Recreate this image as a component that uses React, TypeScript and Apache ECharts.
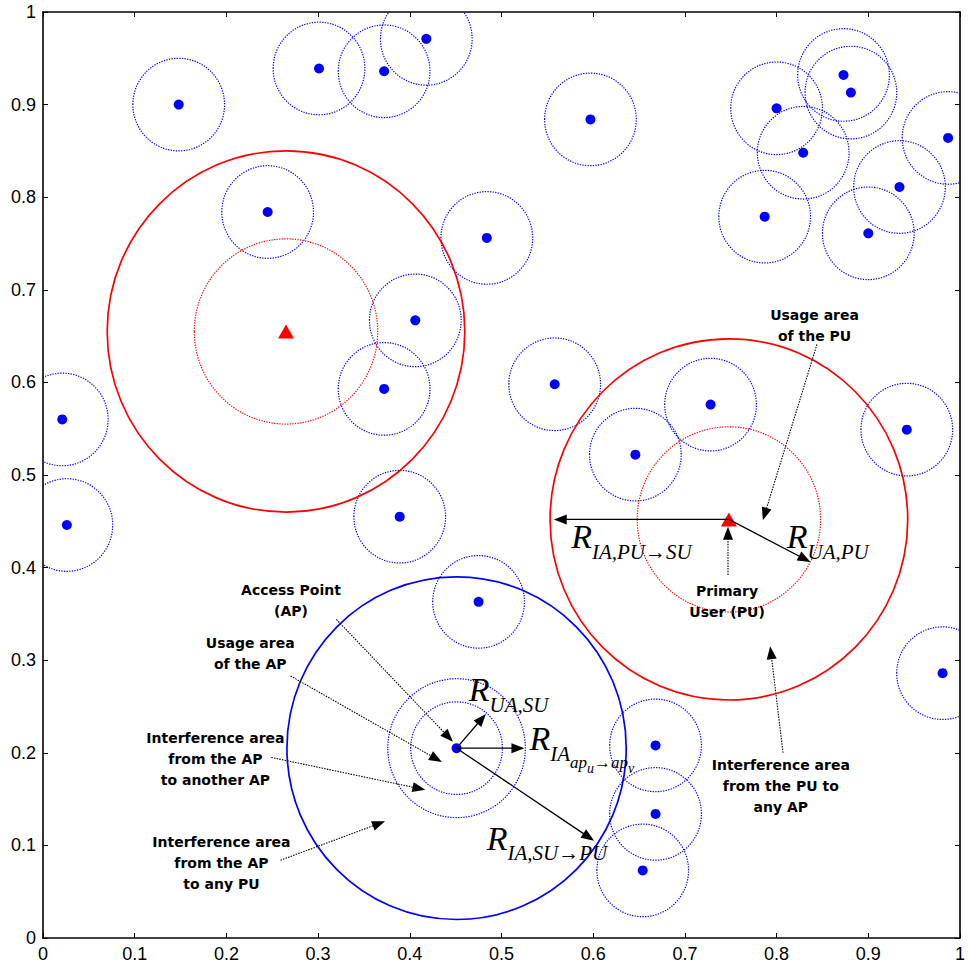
import React, { useEffect, useRef } from "react";
import * as echarts from "echarts";

// Secondary users / access points (blue dots)
const suPoints: [number, number][] = [
  [0.148, 0.9], [0.301, 0.939], [0.372, 0.936], [0.418, 0.971], [0.597, 0.884],
  [0.8, 0.896], [0.873, 0.932], [0.881, 0.913], [0.829, 0.848], [0.987, 0.864],
  [0.934, 0.811], [0.787, 0.779], [0.9, 0.761], [0.245, 0.784], [0.484, 0.756],
  [0.406, 0.667], [0.372, 0.593], [0.558, 0.598], [0.728, 0.576], [0.646, 0.522],
  [0.942, 0.549], [0.021, 0.56], [0.026, 0.446], [0.389, 0.455], [0.475, 0.363],
  [0.451, 0.205], [0.668, 0.208], [0.668, 0.134], [0.654, 0.073], [0.981, 0.286],
];
const suUsageRadius = 0.05;

// Highlighted access point
const apPoint: [number, number] = [0.451, 0.205];
const apInterferenceApRadius = 0.075;
const apInterferencePuRadius = 0.185;

// Primary users (red triangles)
const puPoints: [number, number][] = [[0.265, 0.655], [0.748, 0.452]];
const puUsageRadius = 0.1;
const puInterferenceRadius = 0.195;

// Axis ticks
const tickValues = [0, 0.1, 0.2, 0.3, 0.4, 0.5, 0.6, 0.7, 0.8, 0.9, 1];
const tickLabels = ["0", "0.1", "0.2", "0.3", "0.4", "0.5", "0.6", "0.7", "0.8", "0.9", "1"];

// Annotation texts and their anchors (data coordinates)
const noteTexts = [
  "Access Point\n(AP)",
  "Usage area\nof the AP",
  "Interference area\nfrom the AP\nto another AP",
  "Interference area\nfrom the AP\nto any PU",
  "Usage area\nof the PU",
  "Primary\nUser (PU)",
  "Interference area\nfrom the PU to\nany AP",
];
const noteAnchors: [number, number][] = [
  [0.2704, 0.3643], [0.226, 0.3076], [0.188, 0.1936], [0.1946, 0.0815],
  [0.8414, 0.6618], [0.746, 0.3637], [0.8046, 0.1645],
];

// Pointer arrows [x1, y1, x2, y2, dotted]
const noteArrows: number[][] = [
  [0.32, 0.344, 0.447, 0.212, 1],
  [0.27, 0.283, 0.435, 0.19, 1],
  [0.249, 0.195, 0.417, 0.16, 1],
  [0.259, 0.084, 0.373, 0.126, 1],
  [0.844, 0.641, 0.785, 0.451, 1],
  [0.747, 0.392, 0.747, 0.444, 1],
  [0.807, 0.2, 0.793, 0.315, 1],
];
// Radius arrows [x1, y1, x2, y2, dotted]
const radiusArrows: number[][] = [
  [0.451, 0.205, 0.483, 0.242, 0],
  [0.451, 0.205, 0.525, 0.205, 0],
  [0.451, 0.205, 0.601, 0.105, 0],
  [0.748, 0.452, 0.557, 0.452, 0],
  [0.748, 0.452, 0.837, 0.406, 0],
];

// Math labels: parts [text, level]
const mathParts: [string, number][][] = [
  [["R", 0], ["UA,SU", 1]],
  [["R", 0], ["IA", 1], ["ap", 2], ["u", 3], ["\u2192", 2], ["ap", 2], ["v", 3]],
  [["R", 0], ["IA,SU\u2192PU", 1]],
  [["R", 0], ["IA,PU\u2192SU", 1]],
  [["R", 0], ["UA,PU", 1]],
];
const mathAnchors: [number, number][] = [
  [0.4644, 0.2555], [0.5305, 0.2026], [0.4839, 0.0955], [0.576, 0.4215], [0.8111, 0.4215],
];

// styles
const levelSize = [34, 21, 17, 14];
const levelDrop = [0, 11, 18, 23];
const circleStyles = [
  { stroke: "#0000ff", lineWidth: 1.2, lineDash: [1.3, 1.3] },
  { stroke: "#ff0000", lineWidth: 1.2, lineDash: [1.3, 1.3] },
  { stroke: "#ff0000", lineWidth: 1.7, lineDash: null },
  { stroke: "#0000ff", lineWidth: 1.7, lineDash: null },
];

let measureCtx: CanvasRenderingContext2D | null = null;
function textWidth(t: string, font: string) {
  if (!measureCtx) measureCtx = document.createElement("canvas").getContext("2d");
  measureCtx!.font = font;
  return measureCtx!.measureText(t).width;
}

export default function App() {
  const ref = useRef<HTMLDivElement>(null);
  useEffect(() => {
    document.body.style.margin = "0";
    const chart = echarts.init(ref.current!, null, { renderer: "svg" });

    const circleData: number[][] = [];
    suPoints.forEach((p) => circleData.push([p[0], p[1], suUsageRadius, 0]));
    circleData.push([apPoint[0], apPoint[1], apInterferenceApRadius, 0]);
    circleData.push([apPoint[0], apPoint[1], apInterferencePuRadius, 3]);
    puPoints.forEach((p) => {
      circleData.push([p[0], p[1], puUsageRadius, 1]);
      circleData.push([p[0], p[1], puInterferenceRadius, 2]);
    });

    const arrowData = [...noteArrows, ...radiusArrows];
    const fmt = (v: number) => {
      const i = tickValues.findIndex((t) => Math.abs(t - v) < 1e-6);
      return i >= 0 ? tickLabels[i] : "";
    };
    const axisCommon = {
      type: "value" as const,
      min: 0,
      max: 1,
      interval: 0.1,
      splitLine: { show: false },
      axisLine: { show: true, onZero: false, lineStyle: { color: "#000", width: 1.6 } },
      axisTick: { show: true, inside: true, length: 5, lineStyle: { color: "#000", width: 1 } },
    };
    const labelStyle = {
      color: "#000",
      fontSize: 18,
      fontFamily: "'Liberation Sans', Arial, sans-serif",
      margin: 7,
      formatter: fmt,
      showMinLabel: true,
      showMaxLabel: true,
    };

    chart.setOption({
      animation: false,
      backgroundColor: "#fff",
      grid: { left: 43, right: 2, top: 12, bottom: 28, containLabel: false },
      xAxis: [
        { ...axisCommon, position: "bottom", axisLabel: labelStyle },
        { ...axisCommon, position: "top", axisLabel: { show: false } },
      ],
      yAxis: [
        { ...axisCommon, position: "left", axisLabel: labelStyle },
        { ...axisCommon, position: "right", axisLabel: { show: false } },
      ],
      series: [
        {
          type: "custom",
          name: "circles",
          clip: true,
          silent: true,
          encode: { x: 0, y: 1 },
          data: circleData,
          renderItem: (params: any, api: any) => {
            const c = api.coord([api.value(0), api.value(1)]);
            const r = api.value(2);
            const s = api.size([r, r]);
            const st = circleStyles[api.value(3)];
            return {
              type: "ellipse",
              shape: { cx: c[0], cy: c[1], rx: s[0], ry: s[1] },
              style: { fill: "none", stroke: st.stroke, lineWidth: st.lineWidth, lineDash: st.lineDash },
            };
          },
          z: 1,
        },
        {
          type: "scatter",
          name: "SU",
          data: suPoints,
          symbol: "circle",
          symbolSize: 10,
          itemStyle: { color: "#0000ff", opacity: 1 },
          silent: true,
          z: 2,
        },
        {
          type: "scatter",
          name: "PU",
          data: puPoints,
          symbol: "triangle",
          symbolSize: [16, 14],
          itemStyle: { color: "#ff0000", opacity: 1 },
          silent: true,
          z: 3,
        },
        {
          type: "custom",
          name: "arrows",
          silent: true,
          encode: { x: [0, 2], y: [1, 3] },
          data: arrowData,
          renderItem: (params: any, api: any) => {
            const p1 = api.coord([api.value(0), api.value(1)]);
            const p2 = api.coord([api.value(2), api.value(3)]);
            const dotted = api.value(4) === 1;
            const dx = p2[0] - p1[0];
            const dy = p2[1] - p1[1];
            const len = Math.hypot(dx, dy) || 1;
            const ux = dx / len;
            const uy = dy / len;
            const hl = 13;
            const hw = 5;
            const bx = p2[0] - ux * hl;
            const by = p2[1] - uy * hl;
            return {
              type: "group",
              children: [
                {
                  type: "line",
                  shape: { x1: p1[0], y1: p1[1], x2: bx + ux * 2, y2: by + uy * 2 },
                  style: { stroke: "#000", lineWidth: dotted ? 1.1 : 1.3, lineDash: dotted ? [1.5, 1.2] : null },
                },
                {
                  type: "polygon",
                  shape: { points: [[p2[0], p2[1]], [bx - uy * hw, by + ux * hw], [bx + uy * hw, by - ux * hw]] },
                  style: { fill: "#000" },
                },
              ],
            };
          },
          z: 4,
        },
        {
          type: "custom",
          name: "notes",
          silent: true,
          encode: { x: 0, y: 1 },
          data: noteAnchors.map((a, i) => [a[0], a[1], i]),
          renderItem: (params: any, api: any) => {
            const c = api.coord([api.value(0), api.value(1)]);
            return {
              type: "text",
              x: c[0],
              y: c[1],
              style: {
                text: noteTexts[api.value(2)],
                fontFamily: "'DejaVu Sans', sans-serif",
                fontWeight: "bold",
                fontSize: 14,
                lineHeight: 21,
                align: "center",
                verticalAlign: "middle",
                fill: "#000",
              },
            };
          },
          z: 5,
        },
        {
          type: "custom",
          name: "math",
          silent: true,
          encode: { x: 0, y: 1 },
          data: mathAnchors.map((a, i) => [a[0], a[1], i]),
          renderItem: (params: any, api: any) => {
            const c = api.coord([api.value(0), api.value(1)]);
            const parts = mathParts[api.value(2)];
            let x = c[0];
            const children: any[] = [];
            parts.forEach(([t, lvl]) => {
              const size = levelSize[lvl];
              const fam = "'Liberation Serif', 'Times New Roman', serif";
              const font = `italic ${size}px ${fam}`;
              const baseline = c[1] + levelDrop[lvl];
              children.push({
                type: "text",
                x,
                y: baseline - 0.3375 * size,
                style: {
                  text: t,
                  fontStyle: "italic",
                  fontSize: size,
                  fontFamily: fam,
                  align: "left",
                  verticalAlign: "middle",
                  fill: "#000",
                },
              });
              x += textWidth(t, font);
            });
            return { type: "group", children };
          },
          z: 6,
        },
      ],
    });
    return () => chart.dispose();
  }, []);
  return <div ref={ref} style={{ width: 968, height: 966 }} />;
}
